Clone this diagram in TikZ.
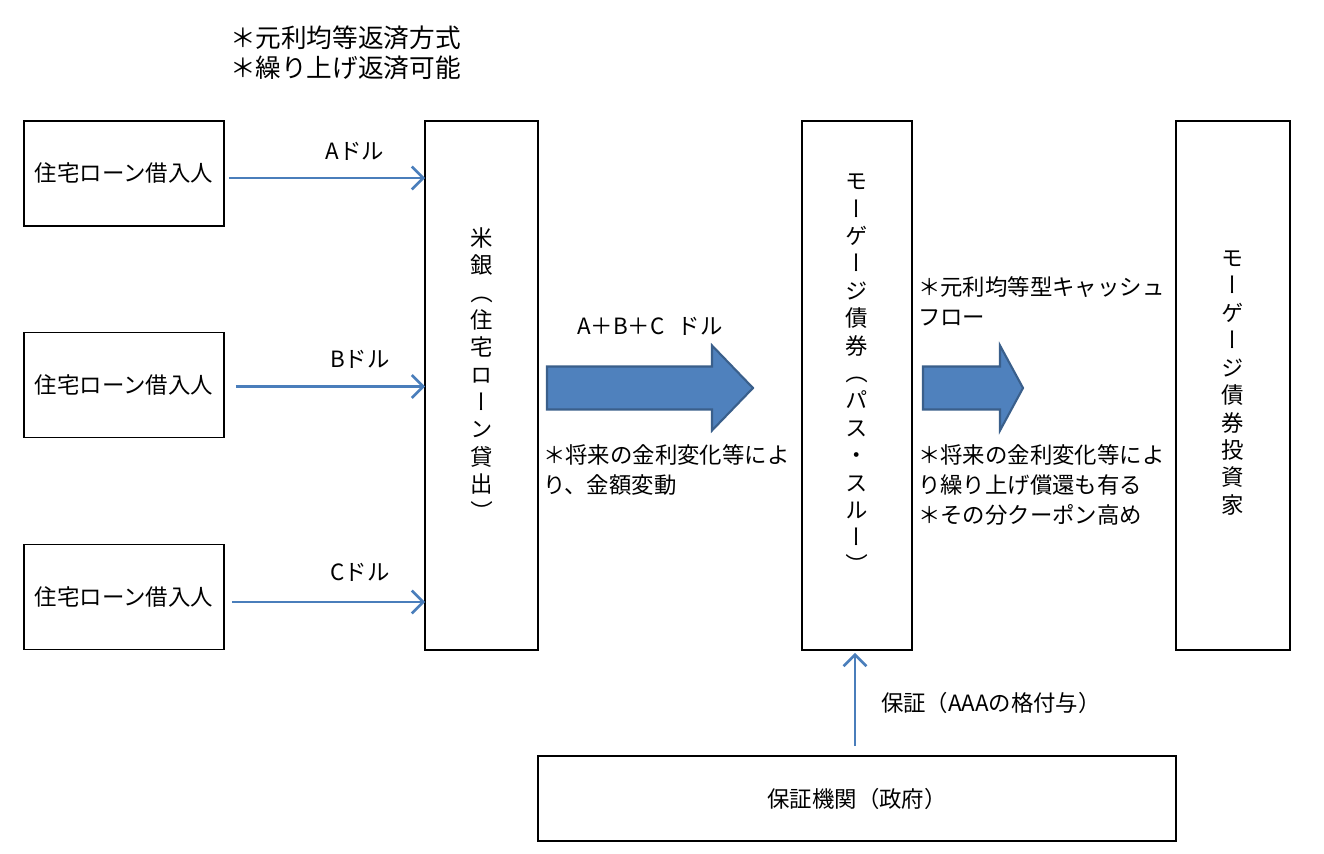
\documentclass[tikz,border=0pt]{standalone}
\usepackage{fontspec}
\usepackage{graphicx}
\newfontfamily\jp{Noto Sans CJK JP}
\newfontfamily\jpv[RawFeature=+vert]{Noto Sans CJK JP}
\newcommand{\vlp}{\rotatebox[origin=c]{-90}{\jp （}}
\newcommand{\vrp}{\rotatebox[origin=c]{-90}{\jp ）}}
\definecolor{flowblue}{HTML}{4A7EBB}
\definecolor{blockfill}{HTML}{4F81BD}
\definecolor{blockline}{HTML}{3A5F8B}
\tikzset{
  base/.style={font=\jp\fontsize{12.75}{17}\selectfont, inner sep=0pt, outer sep=0pt},
  boxnode/.style={base, draw=black, line width=1.1pt, fill=white, align=center},
  vtext/.style={font=\jpv\fontsize{12.75}{15.6}\selectfont, align=center, inner sep=0pt},
  lbl/.style={base, anchor=west, align=left},
  flow/.style={draw=flowblue, line width=1.6pt, -{Straight Barb[length=6.5pt,width=13pt,line width=1.5pt]}},
  blockarrow/.style={fill=blockfill, draw=blockline, line width=1.2pt, line join=miter}
}
\usetikzlibrary{arrows.meta}
\begin{document}
\begin{tikzpicture}[x=0.02cm,y=-0.02cm]
\useasboundingbox (0,0) rectangle (1324,854);
% boxes
\node[boxnode, minimum width=4cm, minimum height=2.1cm] (b1) at (124,173.5) {住宅ローン借入人};
\node[boxnode, minimum width=4cm, minimum height=2.1cm] (b2) at (124,385) {住宅ローン借入人};
\node[boxnode, minimum width=4cm, minimum height=2.1cm] (b3) at (124,597) {住宅ローン借入人};
\node[boxnode, minimum width=2.26cm, minimum height=10.58cm] (bank) at (481.5,385.5) {};
\node[vtext] (banktxt) at (482,375) {米\\銀\\\vlp\\住\\宅\\ロ\\ー\\ン\\貸\\出\\\vrp};
\node[boxnode, minimum width=2.2cm, minimum height=10.58cm] (mbs) at (857,385.5) {};
\node[vtext] (mbstxt) at (857,375) {モ\\ー\\ゲ\\ー\\ジ\\債\\券\\\vlp\\パ\\ス\\・\\ス\\ル\\ー\\\vrp};
\node[boxnode, minimum width=2.28cm, minimum height=10.58cm] (inv) at (1233,385.5) {};
\node[vtext] (invtxt) at (1233,383) {モ\\ー\\ゲ\\ー\\ジ\\債\\券\\投\\資\\家};
\node[boxnode, minimum width=12.76cm, minimum height=1.7cm] (guar) at (857,798.5) {保証機関（政府）};
% top notes
\node[base, anchor=west, font=\jp\fontsize{14.6}{17}\selectfont] (top1) at (230,38) {＊元利均等返済方式};
\node[base, anchor=west, font=\jp\fontsize{14.6}{17}\selectfont] (top2) at (230,68) {＊繰り上げ返済可能};
% flows
\draw[flow] ([xshift=0.1cm,yshift=-0.09cm]b1.east) -- ([yshift=-0.09cm]bank.west |- b1.east);
\draw[flow] ([xshift=0.24cm,yshift=-0.03cm]b2.east) -- ([yshift=-0.03cm]bank.west |- b2.east);
\draw[flow] ([xshift=0.16cm,yshift=-0.1cm]b3.east) -- ([yshift=-0.1cm]bank.west |- b3.east);
\node[base] (la) at (355,151) {Aドル};
\node[base] (lb) at (360,359) {Bドル};
\node[base] (lc) at (360,572) {Cドル};
\draw[flow] ([xshift=-0.04cm,yshift=0.2cm]guar.north) -- ([xshift=-0.04cm,yshift=-0.06cm]mbs.south);
\node[lbl] (lg) at (881,703) {保証（AAAの格付与）};
% block arrows
\coordinate (ba1) at (547,387.5);
\coordinate (ba2) at (923,387.5);
\draw[blockarrow] (ba1) ++(0,-21) -- ++(165,0) -- ++(0,-21) -- ++(41,42.5) -- ++(-41,42.5) -- ++(0,-21) -- ++(-165,0) -- cycle;
\draw[blockarrow] (ba2) ++(0,-21) -- ++(77,0) -- ++(0,-21) -- ++(23,42.5) -- ++(-23,42.5) -- ++(0,-21) -- ++(-77,0) -- cycle;
\node[lbl] (sum) at (577,326) {A＋B＋C\hspace{0.6em}ドル};
\node[lbl] (n1) at (543,470) {＊将来の金利変化等によ\\り、金額変動};
\node[lbl] (n2) at (918,301.5) {＊元利均等型キャッシュ\\フロー};
\node[lbl] (n3) at (918,485) {＊将来の金利変化等によ\\り繰り上げ償還も有る\\＊その分クーポン高め};
\end{tikzpicture}
\end{document}
